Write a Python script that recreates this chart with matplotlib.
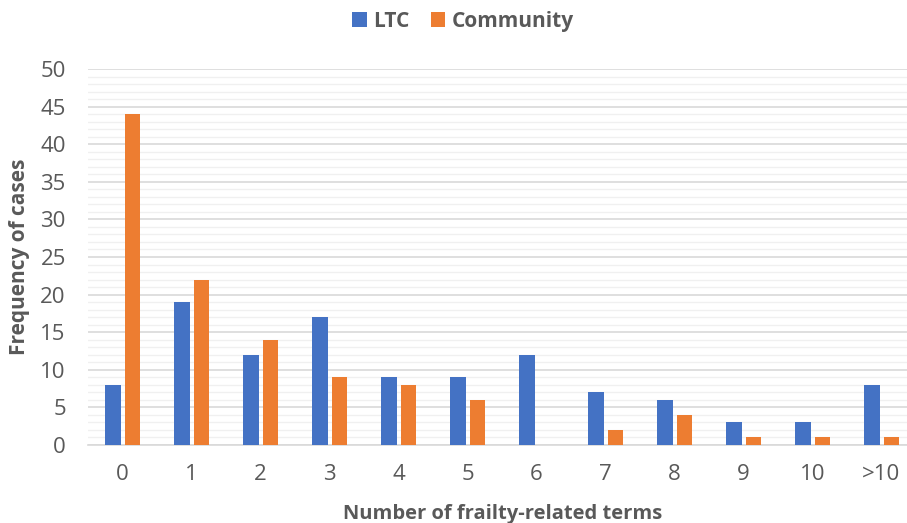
import matplotlib
matplotlib.use("Agg")
import matplotlib.pyplot as plt
import numpy as np
from matplotlib.ticker import MultipleLocator

plt.rcParams['font.family'] = ['Open Sans', 'DejaVu Sans']

categories = ["0", "1", "2", "3", "4", "5", "6", "7", "8", "9", "10", ">10"]
ltc = [8, 19, 12, 17, 9, 9, 12, 7, 6, 3, 3, 8]
community = [44, 22, 14, 9, 8, 6, 0, 2, 4, 1, 1, 1]

fig = plt.figure(figsize=(9.07, 5.23), dpi=100)
ax = fig.add_axes([88/907, 1 - 445/523, (907 - 88)/907, (445 - 69)/523])

x = np.arange(len(categories))
w = 0.23
ax.bar(x - 0.135, ltc, width=w, color="#4472C4", label="LTC", zorder=3)
ax.bar(x + 0.145, community, width=w, color="#ED7D31", label="Community", zorder=3)

ax.set_xlim(-0.5, 11.37)
ax.set_ylim(0, 50)
ax.yaxis.set_major_locator(MultipleLocator(5))
ax.yaxis.set_minor_locator(MultipleLocator(1))
ax.grid(axis="y", which="major", color="#D9D9D9", linewidth=1.2, zorder=0)
ax.grid(axis="y", which="minor", color="#F0F0F0", linewidth=1.0, zorder=0)
ax.set_xticks(x)
ax.set_xticklabels(categories)
ax.tick_params(axis="both", which="both", length=0, labelsize=16, colors="#595959")
ax.tick_params(axis="x", pad=14)
ax.tick_params(axis="y", pad=16)
for s in ["top", "right", "left"]:
    ax.spines[s].set_visible(False)
ax.spines["bottom"].set_color("#D9D9D9")
ax.spines["bottom"].set_linewidth(1.2)

ax.set_ylabel("Frequency of cases", fontsize=15, fontweight="bold", color="#595959",
              va="center")
ax.yaxis.set_label_coords(-68/819, 0.5)
ax.set_xlabel("Number of frailty-related terms", fontsize=14.5, fontweight="bold", color="#595959",
              va="center")
ax.xaxis.set_label_coords(415/819, -69/376)

fig.legend(loc="center", bbox_to_anchor=(463/907, 1 - 21/523), ncol=2, frameon=False,
           prop={"size": 15, "weight": "bold"}, labelcolor="#595959",
           handlelength=0.7, handleheight=0.7, handletextpad=0.3, columnspacing=1.0)

fig.savefig("out.png", dpi=100)
